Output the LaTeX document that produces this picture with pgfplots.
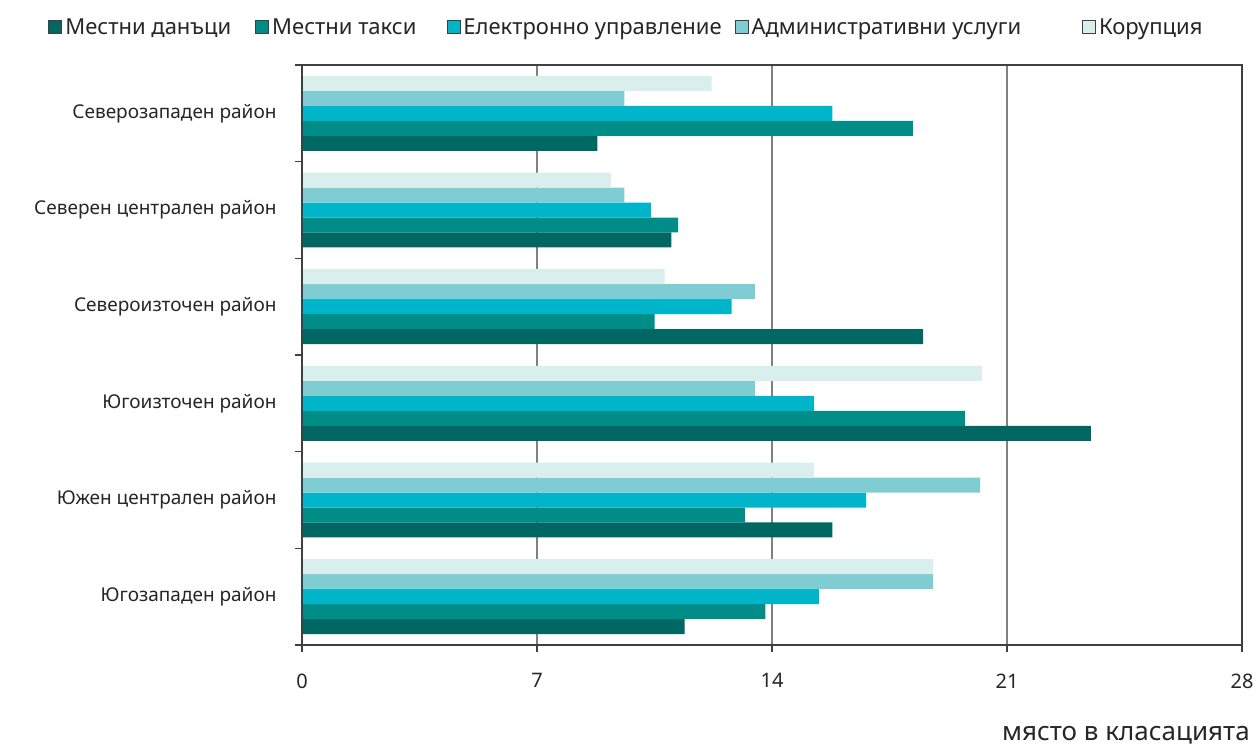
\documentclass[border=0pt]{standalone}
\usepackage{fontspec}
\setmainfont{Noto Sans}[Script=Cyrillic, Language=Bulgarian]
\usepackage{pgfplots}
\pgfplotsset{compat=1.18}

\definecolor{cDan}{HTML}{006763}
\definecolor{cTak}{HTML}{008D88}
\definecolor{cEl}{HTML}{00B5C9}
\definecolor{cAdm}{HTML}{7FCDD2}
\definecolor{cKor}{HTML}{D9EFED}

% groups: 0 = top ... 5 = bottom
\pgfplotstableread{
g dan  tak  el   adm  kor
0 8.8  18.2 15.8 9.6  12.2
1 11.0 11.2 10.4 9.6  9.2
2 18.5 10.5 12.8 13.5 10.8
3 23.5 19.75 15.25 13.5 20.25
4 15.8 13.2 16.8 20.2 15.25
5 11.4 13.8 15.4 18.8 18.8
}\data

\begin{document}
\begin{tikzpicture}
\useasboundingbox (0,0) rectangle (1256pt,748pt);
\begin{axis}[
  at={(302pt,103pt)}, anchor=south west,
  scale only axis, width=940pt, height=580pt,
  xbar, bar width=0.155,
  xmin=0, xmax=28, xtick={0,7,14,21,28},
  ymin=-0.5, ymax=5.5, y dir=reverse,
  ytick={-0.5,0.5,...,5.5}, yticklabels={},
  extra y ticks={0,1,2,3,4,5},
  extra y tick labels={Северозападен район,Северен централен район,Североизточен район,Югоизточен район,Южен централен район,Югозападен район},
  extra y tick style={major tick length=0pt, yticklabel style={xshift=-22pt}},
  ytick pos=left, xtick pos=bottom,
  tick align=outside, major tick length=7pt,
  tick style={black!75, line width=1.2pt},
  axis line style={black!75, line width=1.5pt},
  xmajorgrids, grid style={black!50, line width=1.3pt},
  /pgf/number format/assume math mode=true,
  ticklabel style={font=\fontsize{19}{22}\selectfont, text=black!85},
  xticklabel style={yshift=-18pt, font=\fontsize{20}{24}\selectfont},
  xlabel={място в класацията},
  xlabel style={at={(1.012,-0.155)}, anchor=east, font=\fontsize{26}{30}\selectfont, text=black!85},
  legend style={at={(-0.2731,1.0655)}, anchor=west, draw=none,
    font=\fontsize{22}{26}\selectfont, text=black!85,
    /tikz/every odd column/.append style={column sep=1pt},
    /tikz/column 2/.style={column sep=22pt},
    /tikz/column 4/.style={column sep=28pt},
    /tikz/column 6/.style={column sep=11pt},
    /tikz/column 8/.style={column sep=59pt}},
  legend columns=5,
  legend image code/.code={\draw[#1, draw=black!75, line width=0.9pt] (0pt,-6.5pt) rectangle (13pt,6.5pt);},
]
\addplot[fill=cDan, draw=none, bar shift=0.31] table[x=dan, y=g] {\data};
\addlegendentry{Местни данъци}
\addplot[fill=cTak, draw=none, bar shift=0.155] table[x=tak, y=g] {\data};
\addlegendentry{Местни такси}
\addplot[fill=cEl, draw=none, bar shift=0] table[x=el, y=g] {\data};
\addlegendentry{Електронно управление}
\addplot[fill=cAdm, draw=none, bar shift=-0.155] table[x=adm, y=g] {\data};
\addlegendentry{Административни услуги}
\addplot[fill=cKor, draw=none, bar shift=-0.31] table[x=kor, y=g] {\data};
\addlegendentry{Корупция}
\end{axis}
% frame only, drawn again above the bars
\begin{axis}[
  at={(302pt,103pt)}, anchor=south west,
  scale only axis, width=940pt, height=580pt,
  xmin=0, xmax=28, ymin=-0.5, ymax=5.5,
  xtick=\empty, ytick=\empty,
  axis line style={black!75, line width=1.5pt},
]
\end{axis}
\end{tikzpicture}
\end{document}
